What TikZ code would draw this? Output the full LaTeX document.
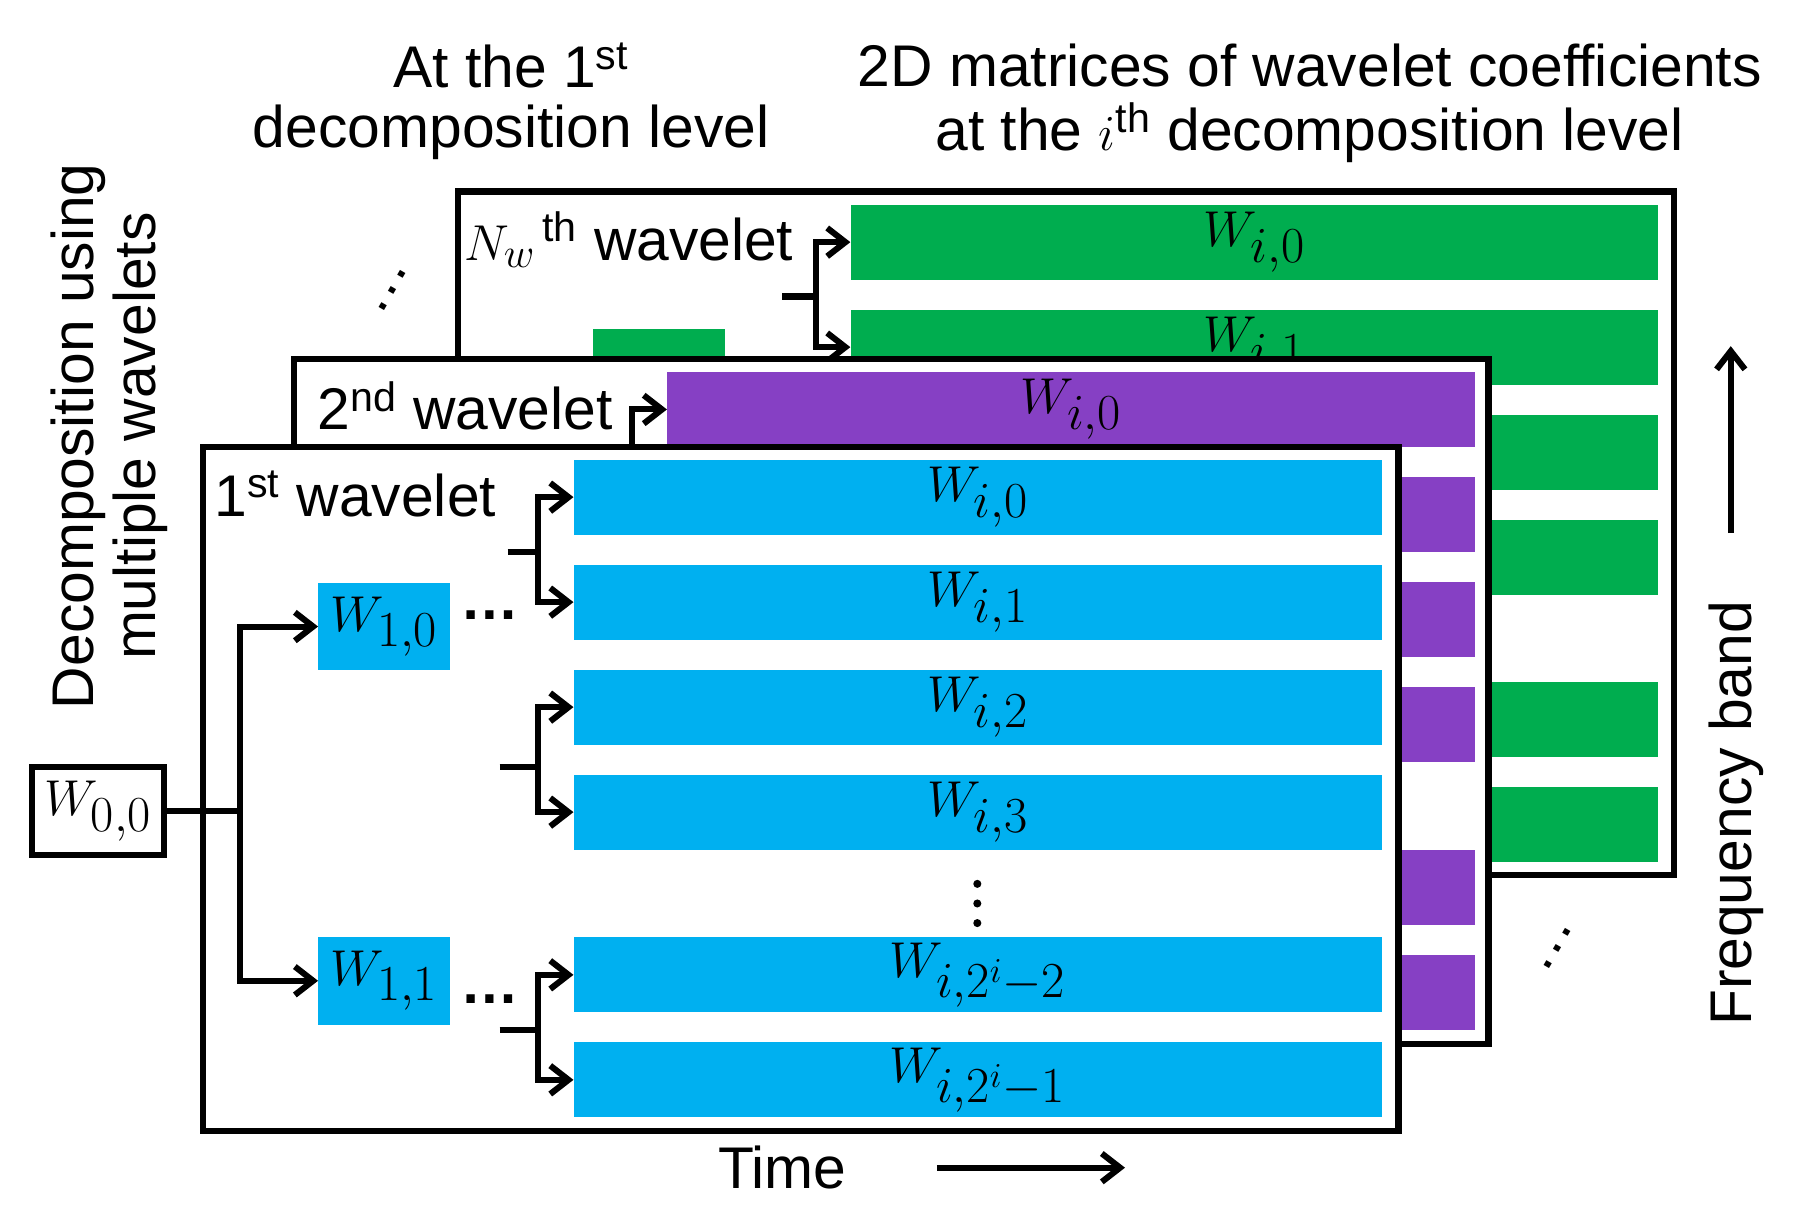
\documentclass[tikz,border=0pt]{standalone}
\usepackage{fontspec}
\setmainfont{Liberation Sans}
\usetikzlibrary{arrows.meta}
\tikzset{
x=0.02cm, y=-0.02cm,
frame/.style={draw, line width=3pt, fill=white},
bar/.style={minimum width=700*0.02cm, minimum height=65*0.02cm, inner sep=0pt, anchor=north west},
conn/.style={line width=3pt, -{Straight Barb[length=9pt,width=14pt]}},
lbl/.style={font=\fontsize{29}{34}\selectfont, inner sep=0pt},
wlbl/.style={font=\fontsize{36}{40}\selectfont},
}
\definecolor{gfill}{RGB}{0,173,79}
\definecolor{pfill}{RGB}{134,64,196}
\definecolor{bfill}{RGB}{0,176,240}
\begin{document}
\begin{tikzpicture}
\useasboundingbox (0,0) rectangle (1560,1048);
% titles
\node[lbl] (t1a) at (443,57) {At the 1\textsuperscript{st}};
\node[lbl] (t1b) at (443,115) {decomposition level};
\node[lbl] (t2a) at (1135,57) {2D matrices of wavelet coefficients};
\node[lbl] (t2b) at (1135,115) {at the $i^{\mathrm{th}}$ decomposition level};
\node[lbl, rotate=90] (dl1) at (68,378) {Decomposition using};
\node[lbl, rotate=90] (dl2) at (122,378) {multiple wavelets};
\node[lbl, rotate=90] (fb) at (1505,705) {Frequency band};
\node[lbl] (tm) at (678,1012) {Time};
\coordinate (fa) at (1500,462); \coordinate (fb2) at (1500,300);
\coordinate (ta) at (812,1012); \coordinate (tb) at (975,1012);
\draw[conn] (fa) -- (fb2);
\draw[conn] (ta) -- (tb);
\node[lbl, rotate=60] (d1) at (340,252) {\dots};
\node[lbl, rotate=60] (d2) at (1350,822) {\dots};

% N_w-th wavelet
\draw[frame] (397,166) rectangle (1451,758);
\foreach \y [count=\k from 0] in {177,268,359,450,591,682}
  \node[bar, fill=gfill] (g\k) at (737,\y) {};
\node[wlbl] at (g0) {$W_{i,0}$};
\node[wlbl] at (g1) {$W_{i,1}$};
\fill[gfill] (514,285) rectangle (628,330);
\node[lbl] (nw) at (545,208) {$N_w$\textsuperscript{\,th} wavelet};
\coordinate (ns) at (678,257); \coordinate (nj) at (707,257);
\draw[line width=3pt] (ns) -- (nj);
\draw[conn] (nj) |- (g0.west);
\draw[conn] (nj) |- (g1.west);

% 2nd wavelet
\draw[frame] (255,311) rectangle (1290,905);
\foreach \y [count=\k from 0] in {322,413,504,595,736,827}
  \node[bar, fill=pfill] (p\k) at (578,\y) {};
\node[wlbl] at (p0) {$W_{i,0}$};
\node[lbl] (sw) at (403,352) {2\textsuperscript{nd} wavelet};
\coordinate (ps) at (548,390);
\draw[conn] (ps) |- (p0.west);

% 1st wavelet
\draw[frame] (176,387) rectangle (1212,980);
\foreach \y [count=\k from 0] in {398,489,580,671,812,903}
  \node[bar, fill=bfill] (b\k) at (497,\y) {};
\node[wlbl] at (b0) {$W_{i,0}$};
\node[wlbl] at (b1) {$W_{i,1}$};
\node[wlbl] at (b2) {$W_{i,2}$};
\node[wlbl] at (b3) {$W_{i,3}$};
\node[wlbl] at (b4) {$W_{i,2^i-2}$};
\node[wlbl] at (b5) {$W_{i,2^i-1}$};
\node[lbl] (fw) at (308,428) {1\textsuperscript{st} wavelet};
\foreach \y in {766,783,800} \fill (847,\y) circle (3.5);

\node[wlbl, fill=bfill, minimum width=114*0.02cm, minimum height=76*0.02cm, inner sep=0pt] (w10) at (333,543) {$W_{1,0}$};
\node[wlbl, fill=bfill, minimum width=114*0.02cm, minimum height=76*0.02cm, inner sep=0pt] (w11) at (333,850) {$W_{1,1}$};
\node[wlbl, draw, line width=3pt, minimum width=114*0.02cm, minimum height=76*0.02cm, inner sep=0pt] (w00) at (85,703) {$W_{0,0}$};
\node[lbl] (e1) at (425,533) {\textbf{\dots}};
\node[lbl] (e2) at (425,866) {\textbf{\dots}};

\coordinate (wj) at (208,703);
\draw[line width=3pt] (w00.east) -- (wj);
\draw[conn] (wj) |- (w10.west);
\draw[conn] (wj) |- (w11.west);

\coordinate (s1) at (440,478); \coordinate (j1) at (466,478);
\coordinate (s2) at (433,665); \coordinate (j2) at (466,665);
\coordinate (s3) at (433,893); \coordinate (j3) at (466,893);
\draw[line width=3pt] (s1) -- (j1) (s2) -- (j2) (s3) -- (j3);
\draw[conn] (j1) |- (b0.west);
\draw[conn] (j1) |- (b1.west);
\draw[conn] (j2) |- (b2.west);
\draw[conn] (j2) |- (b3.west);
\draw[conn] (j3) |- (b4.west);
\draw[conn] (j3) |- (b5.west);
\end{tikzpicture}
\end{document}
